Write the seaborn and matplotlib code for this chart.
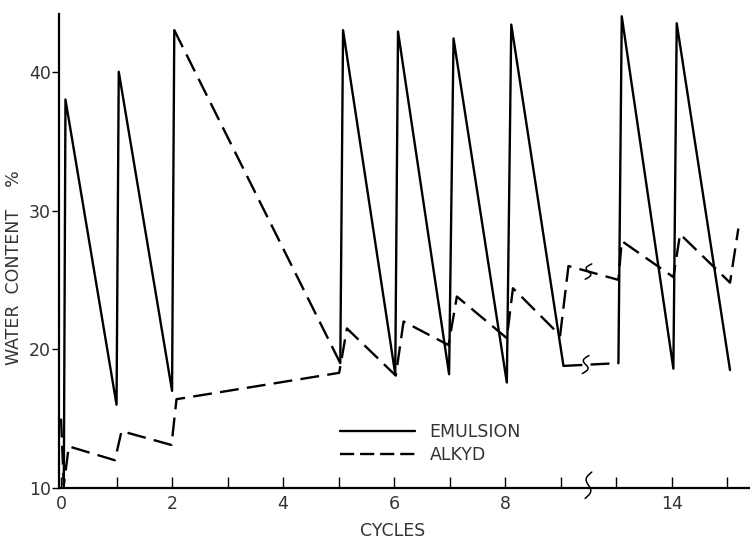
import numpy as np
import pandas as pd
import matplotlib
matplotlib.use("Agg")
import matplotlib.pyplot as plt
from matplotlib.lines import Line2D
import seaborn as sns

# ---------------- data (cycles, water content %) ----------------
emul_a_x = [0.05, 0.08, 1.0, 1.04, 2.0, 2.04]
emul_a_y = [10.0, 38.0, 16.0, 40.0, 17.0, 43.0]
emul_gap_x = [2.04, 5.03]
emul_gap_y = [43.0, 19.0]
emul_b_x = [5.03, 5.08, 6.02, 6.07, 6.99, 7.07, 8.03, 8.11, 9.05]
emul_b_y = [19.0, 43.0, 18.2, 42.9, 18.2, 42.4, 17.6, 43.4, 18.8]
emul_brk_x = [9.05, 13.04]
emul_brk_y = [18.8, 19.0]
emul_c_x = [13.04, 13.1, 14.03, 14.09, 15.05]
emul_c_y = [19.0, 44.0, 18.6, 43.5, 18.5]

alkyd_x = [0.0, 0.05, 0.14, 0.97, 1.09, 1.99, 2.08, 5.01, 5.15, 6.03, 6.17,
           6.98, 7.13, 8.03, 8.14, 8.99, 9.14, 13.04, 13.1, 14.03, 14.15,
           15.05, 15.2]
alkyd_y = [15.0, 10.2, 13.0, 12.0, 14.1, 13.1, 16.4, 18.3, 21.5, 18.1, 22.0,
           20.3, 23.8, 20.8, 24.4, 21.0, 26.0, 25.0, 27.8, 25.2, 28.3,
           24.8, 28.7]

tick_cycles = [0, 1, 2, 3, 4, 5, 6, 7, 8, 9, 13, 14, 15]
labelled_cycles = [0, 2, 4, 6, 8, 14]
y_ticks = [10, 20, 30, 40]
series_names = ["EMULSION", "ALKYD"]


def to_pos(c):
    """Broken axis: cycles 10-12 are omitted."""
    c = np.asarray(c, dtype=float)
    return np.where(c < 11, c, c - 3)


# ---------------- styling ----------------
sns.set_theme(style="ticks")
plt.rcParams["font.family"] = ["DejaVu Sans"]
TXT = "#333333"
FS = 12.5
LW = 1.7
DASH = (0, (8, 3.5))

fig = plt.figure(figsize=(7.5, 5.4), dpi=100)
ax = fig.add_axes([0.0787, 0.0963, 0.9213, 0.8787])


def draw(xs, ys, ls):
    df = pd.DataFrame({"pos": to_pos(xs), "val": ys})
    sns.lineplot(data=df, x="pos", y="val", sort=False, estimator=None,
                 color="black", lw=LW, linestyle=ls, ax=ax, legend=False)


draw(emul_a_x, emul_a_y, "-")
draw(emul_gap_x, emul_gap_y, DASH)
draw(emul_b_x, emul_b_y, "-")
draw(emul_brk_x, emul_brk_y, DASH)
draw(emul_c_x, emul_c_y, "-")
draw(alkyd_x, alkyd_y, DASH)

# axes
ax.set_xlim(-0.036, 12.41)
ax.set_ylim(10, 44.2)
ax.set_xticks(to_pos(tick_cycles))
ax.set_xticklabels([str(c) if c in labelled_cycles else "" for c in tick_cycles])
ax.set_yticks(y_ticks)
ax.set_yticklabels([str(v) for v in y_ticks])
ax.tick_params(axis="x", direction="in", length=8, width=1.0, pad=5,
               labelsize=FS, labelcolor=TXT, color="black")
ax.tick_params(axis="y", direction="out", length=5, width=1.0, pad=1,
               labelsize=FS, labelcolor=TXT, color="black")
for s in ["top", "right"]:
    ax.spines[s].set_visible(False)
for s in ["left", "bottom"]:
    ax.spines[s].set_linewidth(1.6)
    ax.spines[s].set_color("black")
ax.set_xlabel("CYCLES", fontsize=FS, color=TXT)
ax.set_ylabel("WATER  CONTENT    %", fontsize=FS, color=TXT)
ax.xaxis.set_label_coords(0.483, -0.072)
ax.yaxis.set_label_coords(-0.052, 0.464)


# break marks
def squiggle(xc, yc, h, clip=True):
    t = np.linspace(-1, 1, 40)
    xs = xc + 0.06 * t - 0.07 * np.sin(np.pi * t)
    ys = yc + h * t
    ax.plot(xs, ys, color="black", lw=1.1, clip_on=clip)


squiggle(9.5, 10.2, 0.95, clip=False)
squiggle(9.5, 25.6, 0.55)
squiggle(9.45, 18.9, 0.65)

# legend
handles = [Line2D([], [], color="black", lw=LW, linestyle="-"),
           Line2D([], [], color="black", lw=LW, linestyle=(0, (6, 2.5)))]
leg = ax.legend(handles, series_names, loc="center left",
                bbox_to_anchor=(0.4067, 0.094), frameon=False, fontsize=FS,
                handlelength=4.3, handletextpad=0.85, labelspacing=0.3,
                borderpad=0, borderaxespad=0)
for t in leg.get_texts():
    t.set_color(TXT)

fig.savefig("out.png", dpi=100)
